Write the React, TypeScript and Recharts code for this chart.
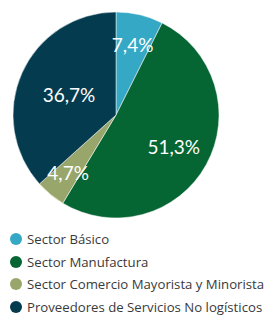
import React from "react";
import { PieChart, Pie, Cell } from "recharts";

const SECTORS = [
  "Sector Básico",
  "Sector Manufactura",
  "Sector Comercio Mayorista y Minorista",
  "Proveedores de Servicios No logísticos",
];
const SHARES = [7.4, 51.3, 4.7, 36.7];
const COLORS = ["#34a8c4", "#066633", "#98a66b", "#053b4e"];
// label distance from center as fraction of radius, per slice
const LABEL_R = [0.7, 0.64, 0.73, 0.5];

const data = SECTORS.map((name, i) => ({ name, value: SHARES[i] }));

const RAD = Math.PI / 180;

const renderLabel = (props: any) => {
  const { cx, cy, midAngle, outerRadius, index, value } = props;
  const r = outerRadius * LABEL_R[index];
  const x = cx + r * Math.cos(-midAngle * RAD);
  const y = cy + r * Math.sin(-midAngle * RAD);
  return (
    <text x={x} y={y} fill="#ffffff" fontSize={19} textAnchor="middle" dominantBaseline="central"
      fontFamily="Lato, 'Open Sans', sans-serif">
      {value.toFixed(1).replace(".", ",")}%
    </text>
  );
};

export default function App() {
  return (
    <div style={{ position: "absolute", left: 0, top: 0, width: 268, height: 315, background: "#fff" }}>
      <PieChart width={268} height={225} margin={{ top: 0, right: 0, bottom: 0, left: 0 }}>
        <Pie
          data={data}
          dataKey="value"
          cx={116}
          cy={115}
          outerRadius={103}
          startAngle={90}
          endAngle={-270}
          stroke="#ffffff"
          strokeWidth={0.5}
          labelLine={false}
          label={renderLabel}
          isAnimationActive={false}
        >
          {data.map((_, i) => <Cell key={i} fill={COLORS[i]} />)}
        </Pie>
      </PieChart>
      <div style={{ position: "absolute", left: 10, top: 228 }}>
        {SECTORS.map((s, i) => (
          <div key={s} style={{ display: "flex", alignItems: "center", height: 22.5 }}>
            <span style={{ width: 12, height: 12, borderRadius: 6, background: COLORS[i], marginRight: 5, flexShrink: 0 }} />
            <span style={{ fontSize: 13.2, color: "#3a3a3a", whiteSpace: "nowrap", fontFamily: "'Open Sans', sans-serif" }}>{s}</span>
          </div>
        ))}
      </div>
    </div>
  );
}
